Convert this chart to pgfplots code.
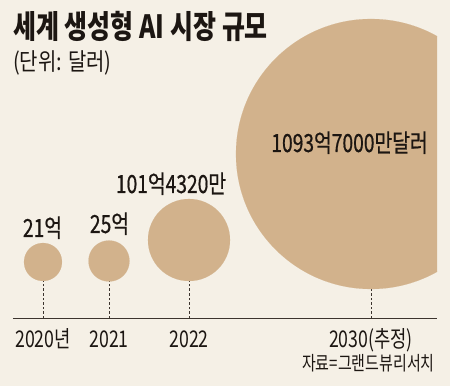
\documentclass[border=0pt]{standalone}
\usepackage{fontspec}
\usepackage{pgfplots}
\usepackage{pgfplotstable}
\pgfplotsset{compat=1.18}
\setmainfont{Noto Sans CJK KR}
\newfontfamily\kc[FakeStretch=0.77]{Noto Sans CJK KR}
\newfontfamily\kl[FakeStretch=0.77, FakeBold=0.6]{Noto Sans CJK KR}
\newfontfamily\kt[FakeStretch=0.78]{Noto Sans CJK KR}
\newfontfamily\ks[FakeStretch=0.83]{Noto Sans CJK KR}
\definecolor{bg}{RGB}{245,240,230}
\definecolor{bub}{RGB}{210,178,140}
\definecolor{ink}{RGB}{28,22,18}
\definecolor{axc}{RGB}{60,52,46}

\pgfplotstableread{
x y r yb
43 124 19 105
109 125 20.5 105
189 146 41 105
371 232 135 97
}\bubbles

\begin{document}
\begin{tikzpicture}
\path[use as bounding box, fill=bg] (0,0) rectangle (450pt,386pt);
\begin{axis}[
  at={(13pt,68pt)}, anchor=south west,
  x=1pt, y=1pt,
  xmin=13, xmax=437, ymin=68, ymax=386,
  axis x line*=bottom, axis y line=none,
  axis line style={draw=axc, line width=1pt},
  xtick={43,109,189,371},
  xticklabels={2020년,2021,2022,2030(추정)},
  major tick length=0pt,
  xticklabel style={anchor=base, yshift=-29pt, inner sep=0pt, text=ink,
    font=\kc\fontsize{23}{23}\selectfont},
  clip marker paths=true,
  clip bounding box=upper bound,
]
\addplot[ycomb, draw=axc, line width=0.9pt, dash pattern=on 2.5pt off 2pt, mark=none]
  table[x=x, y=yb] {\bubbles};
\addplot[scatter, only marks, mark=*, draw=bub, fill=bub,
  mark options={draw=bub, fill=bub, line width=0.1pt},
  scatter/use mapped color={draw=bub, fill=bub, line width=0.1pt},
  visualization depends on={\thisrow{r}\as\rad},
  scatter/@pre marker code/.append style={/tikz/mark size=\rad}]
  table[x=x, y=y] {\bubbles};
\end{axis}
\node[anchor=base west, inner sep=0pt, text=ink] at (13pt,347pt)
  {\kt\bfseries\fontsize{32}{32}\selectfont 세계 생성형 AI 시장 규모};
\node[anchor=base west, inner sep=0pt, text=ink] at (13pt,315pt)
  {\ks\fontsize{24}{24}\selectfont (단위: 달러)};
\node[anchor=base, inner sep=0pt, text=ink] at (42.5pt,149pt)
  {\kl\fontsize{25}{25}\selectfont 21억};
\node[anchor=base, inner sep=0pt, text=ink] at (109.5pt,153pt)
  {\kl\fontsize{25}{25}\selectfont 25억};
\node[anchor=base, inner sep=0pt, text=ink] at (171pt,193pt)
  {\kl\fontsize{25}{25}\selectfont 101억4320만};
\node[anchor=base, inner sep=0pt, text=ink] at (349.5pt,234pt)
  {\kl\fontsize{25}{25}\selectfont 1093억7000만달러};
\node[anchor=base east, inner sep=0pt, text=ink] at (435pt,16pt)
  {\kc\fontsize{19.5}{19.5}\selectfont 자료=그랜드뷰리서치};
\end{tikzpicture}
\end{document}
